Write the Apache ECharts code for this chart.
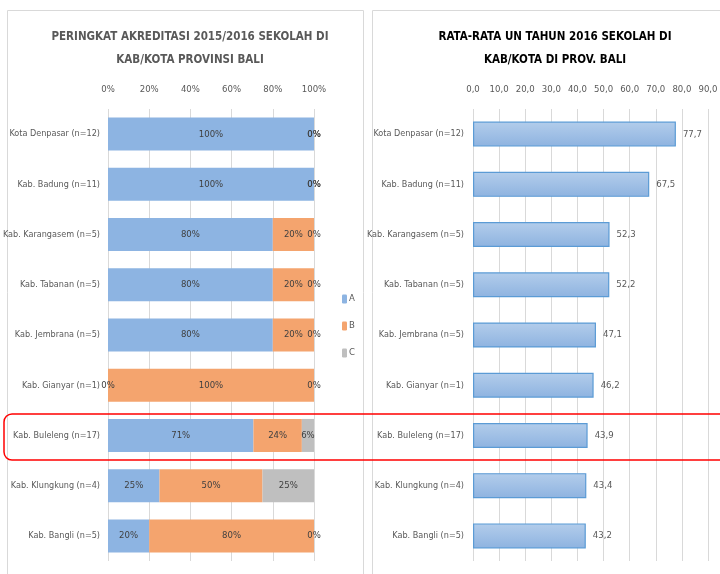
<!DOCTYPE html>
<html>
<head>
<meta charset="utf-8">
<script src="https://cdn.jsdelivr.net/npm/echarts@6/dist/echarts.min.js"></script>
<style>
  html, body { margin: 0; padding: 0; background: #fff; }
  #chart { width: 720px; height: 574px; }
</style>
</head>
<body>
<div id="chart"></div>
<script>
var categories = ['Kota Denpasar (n=12)', 'Kab. Badung (n=11)', 'Kab. Karangasem (n=5)', 'Kab. Tabanan (n=5)',
    'Kab. Jembrana (n=5)', 'Kab. Gianyar (n=1)', 'Kab. Buleleng (n=17)', 'Kab. Klungkung (n=4)', 'Kab. Bangli (n=5)'];

// akreditasi, persen
var akrA = [100, 100, 80, 80, 80, 0, 70.6, 25, 20];
var akrB = [0, 0, 20, 20, 20, 100, 23.5, 50, 80];
var akrC = [0, 0, 0, 0, 0, 0, 5.9, 25, 0];

// rata-rata UN 2016
var rataUN = [77.7, 67.5, 52.3, 52.2, 47.1, 46.2, 43.9, 43.4, 43.2];

var FONT = '"DejaVu Sans Condensed", "Liberation Sans Narrow", sans-serif';
var FS = 9.5;

var chart = echarts.init(document.getElementById('chart'));

var pctLabel = {
    show: true,
    position: 'inside',
    color: '#404040',
    fontFamily: FONT,
    fontSize: FS,
    formatter: function (p) { return Math.round(p.value) + '%'; }
};

var option = {
    animation: false,
    textStyle: { fontFamily: FONT },
    title: [
        {
            text: 'PERINGKAT AKREDITASI 2015/2016 SEKOLAH DI\nKAB/KOTA PROVINSI BALI',
            left: 185, top: 21, textAlign: 'center',
            textStyle: { fontFamily: FONT, fontSize: 11.5, fontWeight: 'bold', color: '#595959', lineHeight: 23 }
        },
        {
            text: 'RATA-RATA UN TAHUN 2016 SEKOLAH DI\nKAB/KOTA DI PROV. BALI',
            left: 550, top: 21, textAlign: 'center',
            textStyle: { fontFamily: FONT, fontSize: 11.5, fontWeight: 'bold', color: '#000', lineHeight: 23 }
        }
    ],
    legend: {
        data: ['A', 'B', 'C'],
        orient: 'vertical',
        left: 337, top: 289,
        itemWidth: 5, itemHeight: 9, itemGap: 17,
        textStyle: { fontFamily: FONT, fontSize: FS, color: '#595959', padding: [0, 0, 0, -3] }
    },
    grid: [
        { left: 108, top: 109, width: 206, height: 452, outerBoundsMode: 'none' },
        { left: 473, top: 109, width: 235, height: 452, outerBoundsMode: 'none' }
    ],
    xAxis: [
        {
            gridIndex: 0, type: 'value', position: 'top', min: 0, max: 100, interval: 20,
            axisLine: { show: false }, axisTick: { show: false },
            axisLabel: { formatter: '{value}%', color: '#595959', fontSize: FS, margin: 14 },
            splitLine: { lineStyle: { color: '#D9D9D9' } }
        },
        {
            gridIndex: 1, type: 'value', position: 'top', min: 0, max: 90, interval: 10,
            axisLine: { show: false }, axisTick: { show: false },
            axisLabel: {
                formatter: function (v) { return v.toFixed(1).replace('.', ','); },
                color: '#595959', fontSize: FS, margin: 14
            },
            splitLine: { lineStyle: { color: '#D9D9D9' } }
        }
    ],
    yAxis: [
        {
            gridIndex: 0, type: 'category', data: categories, inverse: true,
            axisLine: { show: false }, axisTick: { show: false },
            axisLabel: { color: '#595959', fontSize: 9, margin: 8 }
        },
        {
            gridIndex: 1, type: 'category', data: categories, inverse: true,
            axisLine: { show: false }, axisTick: { show: false },
            axisLabel: { color: '#595959', fontSize: 9, margin: 9 }
        }
    ],
    series: [
        {
            name: 'A', type: 'bar', stack: 'akr', xAxisIndex: 0, yAxisIndex: 0,
            data: akrA, barWidth: 33, itemStyle: { color: '#8DB4E2' }, label: pctLabel
        },
        {
            name: 'B', type: 'bar', stack: 'akr', xAxisIndex: 0, yAxisIndex: 0,
            data: akrB, barWidth: 33, itemStyle: { color: '#F4A46E' }, label: pctLabel
        },
        {
            name: 'C', type: 'bar', stack: 'akr', xAxisIndex: 0, yAxisIndex: 0,
            data: akrC, barWidth: 33, itemStyle: { color: '#BFBFBF' }, label: pctLabel
        },
        {
            name: 'Rata-rata UN', type: 'bar', xAxisIndex: 1, yAxisIndex: 1,
            data: rataUN, barWidth: 25,
            itemStyle: {
                color: new echarts.graphic.LinearGradient(0, 0, 0, 1, [
                    { offset: 0, color: '#B3CDEB' },
                    { offset: 1, color: '#8EB3E0' }
                ]),
                borderColor: '#5B9BD5', borderWidth: 1.2
            },
            label: {
                show: true, position: 'right', distance: 7,
                color: '#595959', fontSize: FS,
                formatter: function (p) { return p.value.toFixed(1).replace('.', ','); }
            }
        }
    ],
    graphic: [
        {
            type: 'rect', silent: true, z: -1,
            shape: { x: 7.5, y: 10.5, width: 356, height: 600 },
            style: { fill: null, stroke: '#D9D9D9', lineWidth: 1 }
        },
        {
            type: 'rect', silent: true, z: -1,
            shape: { x: 372.5, y: 10.5, width: 400, height: 600 },
            style: { fill: null, stroke: '#D9D9D9', lineWidth: 1 }
        },
        {
            type: 'rect', silent: true, z: 100,
            shape: { x: 4, y: 414, width: 740, height: 46, r: 8 },
            style: { fill: null, stroke: '#FF0000', lineWidth: 1.5 }
        }
    ]
};

chart.setOption(option);
</script>
</body>
</html>
